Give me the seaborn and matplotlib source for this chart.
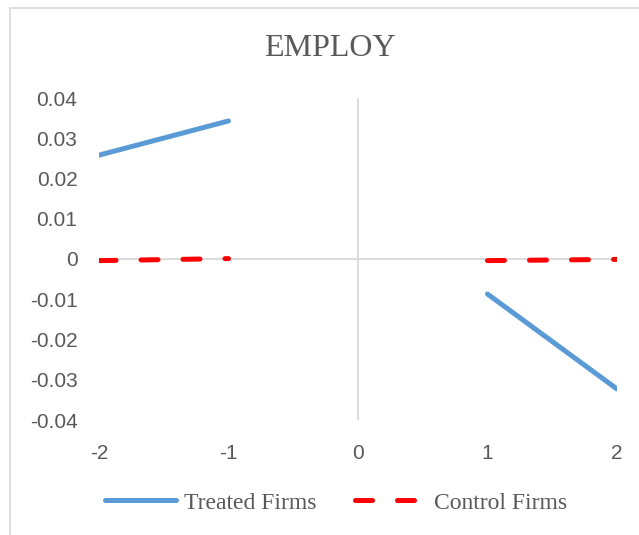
import numpy as np
import pandas as pd
import seaborn as sns
import matplotlib
matplotlib.use("Agg")
import matplotlib.pyplot as plt
from matplotlib.lines import Line2D

# Data (gap at 0)
periods_pre = [-2, -1]
periods_post = [1, 2]
treated_pre = [0.0258, 0.0343]
treated_post = [-0.0087, -0.0323]
control_pre = [-0.0004, 0.0001]
control_post = [-0.0004, -0.0001]
xticks = [-2, -1, 0, 1, 2]
yticks = [-0.04, -0.03, -0.02, -0.01, 0, 0.01, 0.02, 0.03, 0.04]
ytick_labels = ["-0.04", "-0.03", "-0.02", "-0.01", "0", "0.01", "0.02", "0.03", "0.04"]
title = "EMPLOY"
labels = ["Treated Firms", "Control Firms"]

sns.set_theme(style="white")
plt.rcParams['font.family'] = ['Liberation Sans', 'DejaVu Sans']

W, H = 639, 535
fig = plt.figure(figsize=(W / 100, H / 100), dpi=100)
ax = fig.add_axes([99 / W, 1 - 420 / H, (617 - 99) / W, (420 - 98) / H])

blue = "#5B9BD5"
red = "#FF0000"
grey = "#D9D9D9"
txt = "#595959"

# reference lines
ax.axhline(0, color=grey, lw=1.3, zorder=1)
ax.axvline(0, color=grey, lw=1.3, zorder=1)

lw = 3.6
for xs, ys in [(periods_pre, treated_pre), (periods_post, treated_post)]:
    df = pd.DataFrame({"x": xs, "y": ys})
    sns.lineplot(data=df, x="x", y="y", ax=ax, color=blue, lw=lw,
                 solid_capstyle="round", zorder=3)
for xs, ys in [(periods_pre, control_pre), (periods_post, control_post)]:
    df = pd.DataFrame({"x": xs, "y": ys})
    sns.lineplot(data=df, x="x", y="y", ax=ax, color=red, lw=lw,
                 dashes=(3.4, 5.0), dash_capstyle="round", zorder=4)

ax.set_xlim(-2, 2)
ax.set_ylim(-0.04, 0.04)
ax.set_xticks(xticks)
ax.set_xticklabels([str(v) for v in xticks])
ax.set_yticks(yticks)
ax.set_yticklabels(ytick_labels)
ax.tick_params(axis="both", length=0, labelsize=15, labelcolor=txt)
ax.tick_params(axis="x", pad=17)
ax.tick_params(axis="y", pad=15.5)
for lab in ax.get_yticklabels():
    lab.set_horizontalalignment("right")
ax.set_xlabel("")
ax.set_ylabel("")
for s in ax.spines.values():
    s.set_visible(False)
ax.patch.set_alpha(0)

fig.text(330 / W, 1 - 48 / H, title, ha="center", va="center",
         fontsize=23, color=txt, family="Liberation Serif")

handles = [
    Line2D([0], [0], color=blue, lw=lw, solid_capstyle="round"),
    Line2D([0], [0], color=red, lw=lw, dashes=(3.4, 5.0), dash_capstyle="round"),
]
leg = fig.legend(handles, labels, loc="center", bbox_to_anchor=(336 / W, 1 - 503 / H),
                 ncol=2, frameon=False, handlelength=3.0, handletextpad=0.35,
                 columnspacing=1.6, prop={"family": "Liberation Serif", "size": 17})
for t in leg.get_texts():
    t.set_color(txt)

# chart-area border (left and top)
fig.add_artist(Line2D([10 / W, 10 / W], [0, 1 - 8 / H], color=grey, lw=1.2,
                      transform=fig.transFigure))
fig.add_artist(Line2D([10 / W, 1], [1 - 8 / H, 1 - 8 / H], color=grey, lw=1.2,
                      transform=fig.transFigure))

fig.savefig("out.png", dpi=100)
